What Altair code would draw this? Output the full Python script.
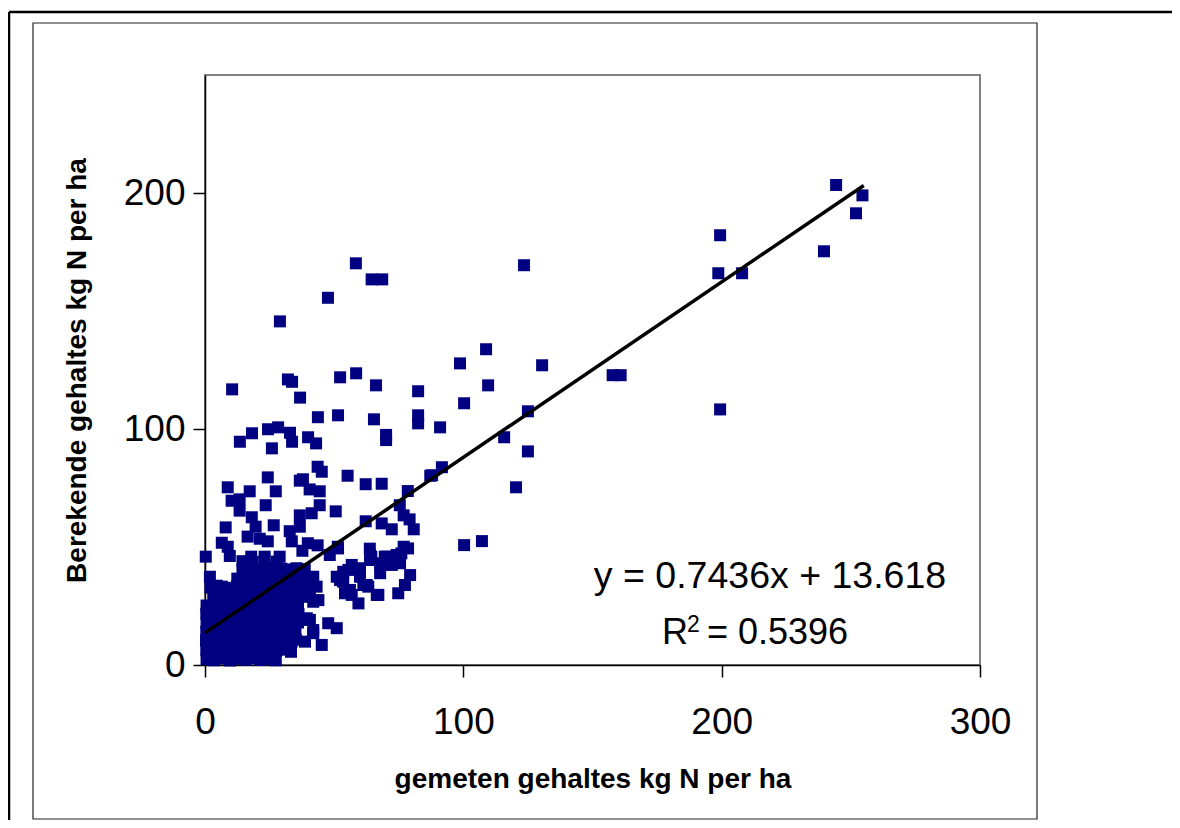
import altair as alt
import pandas as pd

# measured (x) and calculated (y) values, kg N per ha
meas = [
    # upper scattered points
    58.4, 64.5, 68.6, 47.6, 29.0, 10.5, 32.1, 33.7, 36.8, 52.3, 58.5, 66.2, 82.5, 43.7, 51.5,
    65.4, 82.5, 82.5, 91.0, 70.1, 70.1, 13.5, 18.2, 24.4, 28.3, 32.9, 33.7, 39.9, 43.0, 25.9,
    43.6, 45.2, 24.3, 55.2, 36.7, 37.9, 62.2, 68.4, 8.8, 17.3, 27.4, 40.5, 44.4, 87.2, 78.5,
    10.3, 13.4, 13.4, 23.5, 44.4, 50.6, 75.4, 36.7, 41.3, 18.1, 76.9, 79.2, 8.0, 26.6, 19.6,
    62.2, 68.4, 72.3, 80.8, 32.8, 36.7, 16.5, 21.2, 24.3, 6.5, 8.8, 33.6, 39.8, 43.6, 51.4,
    63.8, 76.9, 0.3, 9.6, 17.9, 23.1, 28.9, 37.7, 48.3, 51.5, 64.4, 69.6, 76.0, 78.6,
    # right-hand points
    123.5, 198.7, 108.8, 98.7, 130.5, 109.6, 100.3, 157.8, 160.9, 199.4, 125.0, 115.8, 125.0,
    91.7, 87.9, 120.4, 244.3, 254.5, 252.0, 239.6, 199.4, 207.9, 100.3, 107.2,
    # lower middle points
    63.9, 70.3, 74.2, 63.9, 56.8, 55.5, 53.5, 51.0, 52.3, 67.8, 72.3, 75.5, 79.4, 77.4, 74.8,
    66.5, 63.2, 60.0, 61.3, 59.4, 56.1, 54.2, 56.8, 53.5, 41.9, 43.2, 43.9, 40.6, 41.9, 47.7,
    51.0, 41.9, 41.9, 45.2, 40.6, 60.0, 67.8, 71.6, 62.6, 67.1, 38.7, 39.4, 1.9,
    # dense cluster near the origin
    0.6, 3.4, 6.5, 9.6, 12.4, 15.6, 18.5, 21.4, 24.6, 27.4,
    0.5, 3.6, 6.4, 9.5, 12.6, 15.4, 18.6, 21.5, 24.4, 27.6, 30.4, 33.3,
    0.4, 3.5, 6.6, 9.4, 12.5, 15.6, 18.4, 21.6, 24.5, 27.4, 30.6, 33.5, 35.2,
    0.5, 3.4, 6.5, 9.6, 12.4, 15.5, 18.6, 21.4, 24.6, 27.5, 30.4, 33.6, 35.0,
    0.6, 3.5, 6.4, 9.5, 12.6, 15.4, 18.5, 21.6, 24.4, 27.6, 30.5, 33.4, 36.0,
    0.5, 3.6, 6.5, 9.4, 12.5, 15.6, 18.4, 21.5, 24.6, 27.4, 30.6, 33.5, 36.2,
    0.6, 3.5, 6.4, 9.6, 12.4, 15.5, 18.6, 21.4, 24.5, 27.6, 30.4, 33.6, 36.0,
    6.2, 9.4, 12.6, 15.5, 18.4, 21.6, 24.5, 27.4, 30.5, 33.6, 36.5, 39.5,
    6.5, 9.5, 12.4, 15.6, 18.5, 21.4, 24.6, 27.5, 30.4, 33.5, 36.6, 39.4,
    12.5, 15.4, 18.6, 21.5, 24.4, 27.6, 30.5, 33.4, 36.5, 39.6,
    14.5, 17.4, 20.6, 23.5, 26.4, 29.6, 32.5, 35.4, 38.6,
    14.5, 18.4, 23.0, 27.8,
    3.2, 2.1, 4.5, 7.8, 10.2,
]
calc = [
    170.2, 163.4, 163.4, 155.6, 145.6, 116.8, 121.0, 120.0, 113.3, 121.9, 123.6, 118.5, 116.0, 105.0, 105.8,
    104.1, 105.8, 102.4, 100.7, 97.5, 95.3, 94.6, 98.2, 99.9, 100.7, 98.4, 94.6, 96.5, 93.9, 91.8,
    84.0, 81.9, 79.5, 80.2, 78.1, 78.7, 76.6, 76.8, 75.3, 73.6, 73.6, 74.4, 73.6, 80.2, 73.7,
    69.6, 70.2, 65.4, 67.7, 67.7, 65.1, 67.7, 63.4, 64.3, 62.6, 63.4, 61.7, 58.3, 59.2, 58.6,
    60.9, 60.0, 57.5, 57.5, 56.7, 58.6, 54.4, 53.5, 52.4, 51.8, 50.1, 52.4, 51.6, 50.7, 50.1,
    49.3, 50.1, 45.9, 46.2, 45.9, 45.9, 45.9, 48.4, 46.6, 49.4, 45.9, 45.9, 47.3, 49.4,
    169.4, 166.0, 133.8, 127.8, 127.0, 118.5, 110.9, 122.8, 122.8, 108.3, 107.5, 96.5, 90.5,
    83.8, 80.4, 75.3, 203.4, 199.0, 191.4, 175.3, 182.1, 166.0, 50.8, 52.5,
    46.6, 45.9, 46.6, 44.5, 42.4, 40.3, 39.5, 37.4, 36.0, 43.1, 42.4, 43.1, 38.1, 33.9, 30.4,
    29.7, 33.2, 37.4, 33.9, 26.1, 31.8, 30.4, 29.7, 35.3, 37.4, 33.2, 27.5, 28.9, 26.8, 17.7,
    15.6, 14.8, 13.5, 8.5, 19.1, 41.0, 38.9, 43.8, 33.9, 29.7, 9.9, 19.8, 37.4,
    2.4, 2.0, 2.8, 1.9, 2.6, 2.2, 2.9, 2.1, 2.5, 2.0,
    6.2, 6.8, 5.9, 6.6, 6.1, 6.9, 6.3, 5.8, 6.7, 6.2, 6.5, 5.6,
    10.4, 9.8, 10.6, 10.0, 10.8, 9.9, 10.5, 10.1, 9.7, 10.6, 10.2, 9.9, 10.7,
    14.2, 13.7, 14.5, 13.9, 14.3, 13.6, 14.6, 14.0, 13.8, 14.4, 13.9, 14.2, 13.5,
    17.6, 18.2, 17.4, 18.0, 17.7, 18.4, 17.5, 18.1, 17.9, 17.3, 18.3, 17.8, 18.0,
    21.8, 21.3, 22.0, 21.5, 21.9, 21.2, 21.7, 22.1, 21.4, 21.8, 21.3, 22.0, 21.6,
    25.2, 25.8, 25.1, 25.6, 25.3, 25.9, 25.0, 25.5, 25.7, 25.2, 25.6, 25.1, 25.5,
    29.0, 29.5, 28.9, 29.4, 29.1, 29.6, 28.8, 29.3, 29.7, 29.0, 29.4, 29.2,
    33.2, 32.7, 33.4, 32.9, 33.1, 32.6, 33.3, 32.8, 33.5, 33.0, 32.7, 33.2,
    36.6, 37.0, 36.8, 37.3, 36.5, 37.1, 36.9, 37.4, 36.6, 37.0,
    40.4, 40.9, 40.6, 41.1, 40.3, 40.8, 40.5, 41.0, 40.6,
    44.0, 43.6, 44.2, 43.8,
    29.5, 32.8, 33.6, 31.2, 29.9,
]

trend_x = [0, 255]
trend_y = [13.6, 203.2]

x_ticks = [0, 100, 200, 300]
y_ticks = [0, 100, 200]
x_title = "gemeten gehaltes kg N per ha"
y_title = "Berekende gehaltes kg N per ha"
eq_text = "y = 0.7436x + 13.618"
r_text = "R"
sup_text = "2"
r2_text = "= 0.5396"

FONT = "Liberation Sans"

df = pd.DataFrame({"meas": meas, "calc": calc})
trend = pd.DataFrame({"meas": trend_x, "calc": trend_y})
one = pd.DataFrame({"a": [0]})

xs = alt.Scale(domain=[0, 300], nice=False, zero=False)
ys = alt.Scale(domain=[0, 250], nice=False, zero=False)

x_axis = alt.Axis(
    values=x_ticks, title=x_title, grid=False, labelFlush=False, labelOverlap=False,
    domainColor="black", domainWidth=1.5, tickColor="black", tickWidth=1.5, tickSize=12,
    labelFont=FONT, labelFontSize=37, labelColor="black", labelPadding=27,
    titleFont=FONT, titleFontSize=28, titleFontWeight="bold", titleColor="black",
    titleBaseline="alphabetic", titleY=122,
)
y_axis = alt.Axis(
    values=y_ticks, title=y_title, grid=False, labelFlush=False, labelOverlap=False,
    domainColor="black", domainWidth=1.5, tickColor="black", tickWidth=1.5, tickSize=12,
    labelFont=FONT, labelFontSize=37, labelColor="black", labelPadding=8,
    titleFont=FONT, titleFontSize=28, titleFontWeight="bold", titleColor="black",
    titleAngle=270, titleAlign="center", titleBaseline="alphabetic", titleX=-120, titleY=295,
)

points = alt.Chart(df).mark_point(
    shape="square", filled=True, size=144, color="#000080", opacity=1
).encode(
    x=alt.X("meas:Q", scale=xs, axis=x_axis),
    y=alt.Y("calc:Q", scale=ys, axis=y_axis),
)

line = alt.Chart(trend).mark_line(color="black", strokeWidth=3.5).encode(
    x=alt.X("meas:Q", scale=xs),
    y=alt.Y("calc:Q", scale=ys),
)

eq1 = alt.Chart(one).mark_text(
    text=eq_text, font=FONT, fontSize=37.5, align="center", baseline="alphabetic", color="black"
).encode(x=alt.value(565), y=alt.value(513))
eqR = alt.Chart(one).mark_text(
    text=r_text, font=FONT, fontSize=36, align="left", baseline="alphabetic", color="black"
).encode(x=alt.value(457), y=alt.value(569))
eqS = alt.Chart(one).mark_text(
    text=sup_text, font=FONT, fontSize=23, align="left", baseline="alphabetic", color="black"
).encode(x=alt.value(482), y=alt.value(557))
eq2 = alt.Chart(one).mark_text(
    text=r2_text, font=FONT, fontSize=36, align="left", baseline="alphabetic", color="black"
).encode(x=alt.value(502), y=alt.value(569))

inner_frame = alt.Chart(one).mark_rect(
    fill="white", fillOpacity=0, stroke="#222", strokeWidth=1.2
).encode(x=alt.value(-172), x2=alt.value(832), y=alt.value(-52), y2=alt.value(744))
outer_top = alt.Chart(one).mark_rule(color="black", strokeWidth=2.5).encode(
    x=alt.value(-196), x2=alt.value(980), y=alt.value(-63)
)
outer_left = alt.Chart(one).mark_rule(color="black", strokeWidth=2.5).encode(
    x=alt.value(-196), y=alt.value(-63), y2=alt.value(760)
)

chart = alt.layer(
    inner_frame, outer_top, outer_left, points, line, eq1, eqR, eqS, eq2
).properties(
    width=775, height=590,
    autosize=alt.AutoSizeParams(type="none"),
    padding={"left": 197, "top": 67, "right": 192, "bottom": 155},
    background="white",
).configure_view(stroke="#808080", strokeWidth=2)

chart.save("out.html", embed_options={"renderer": "svg", "actions": False})
